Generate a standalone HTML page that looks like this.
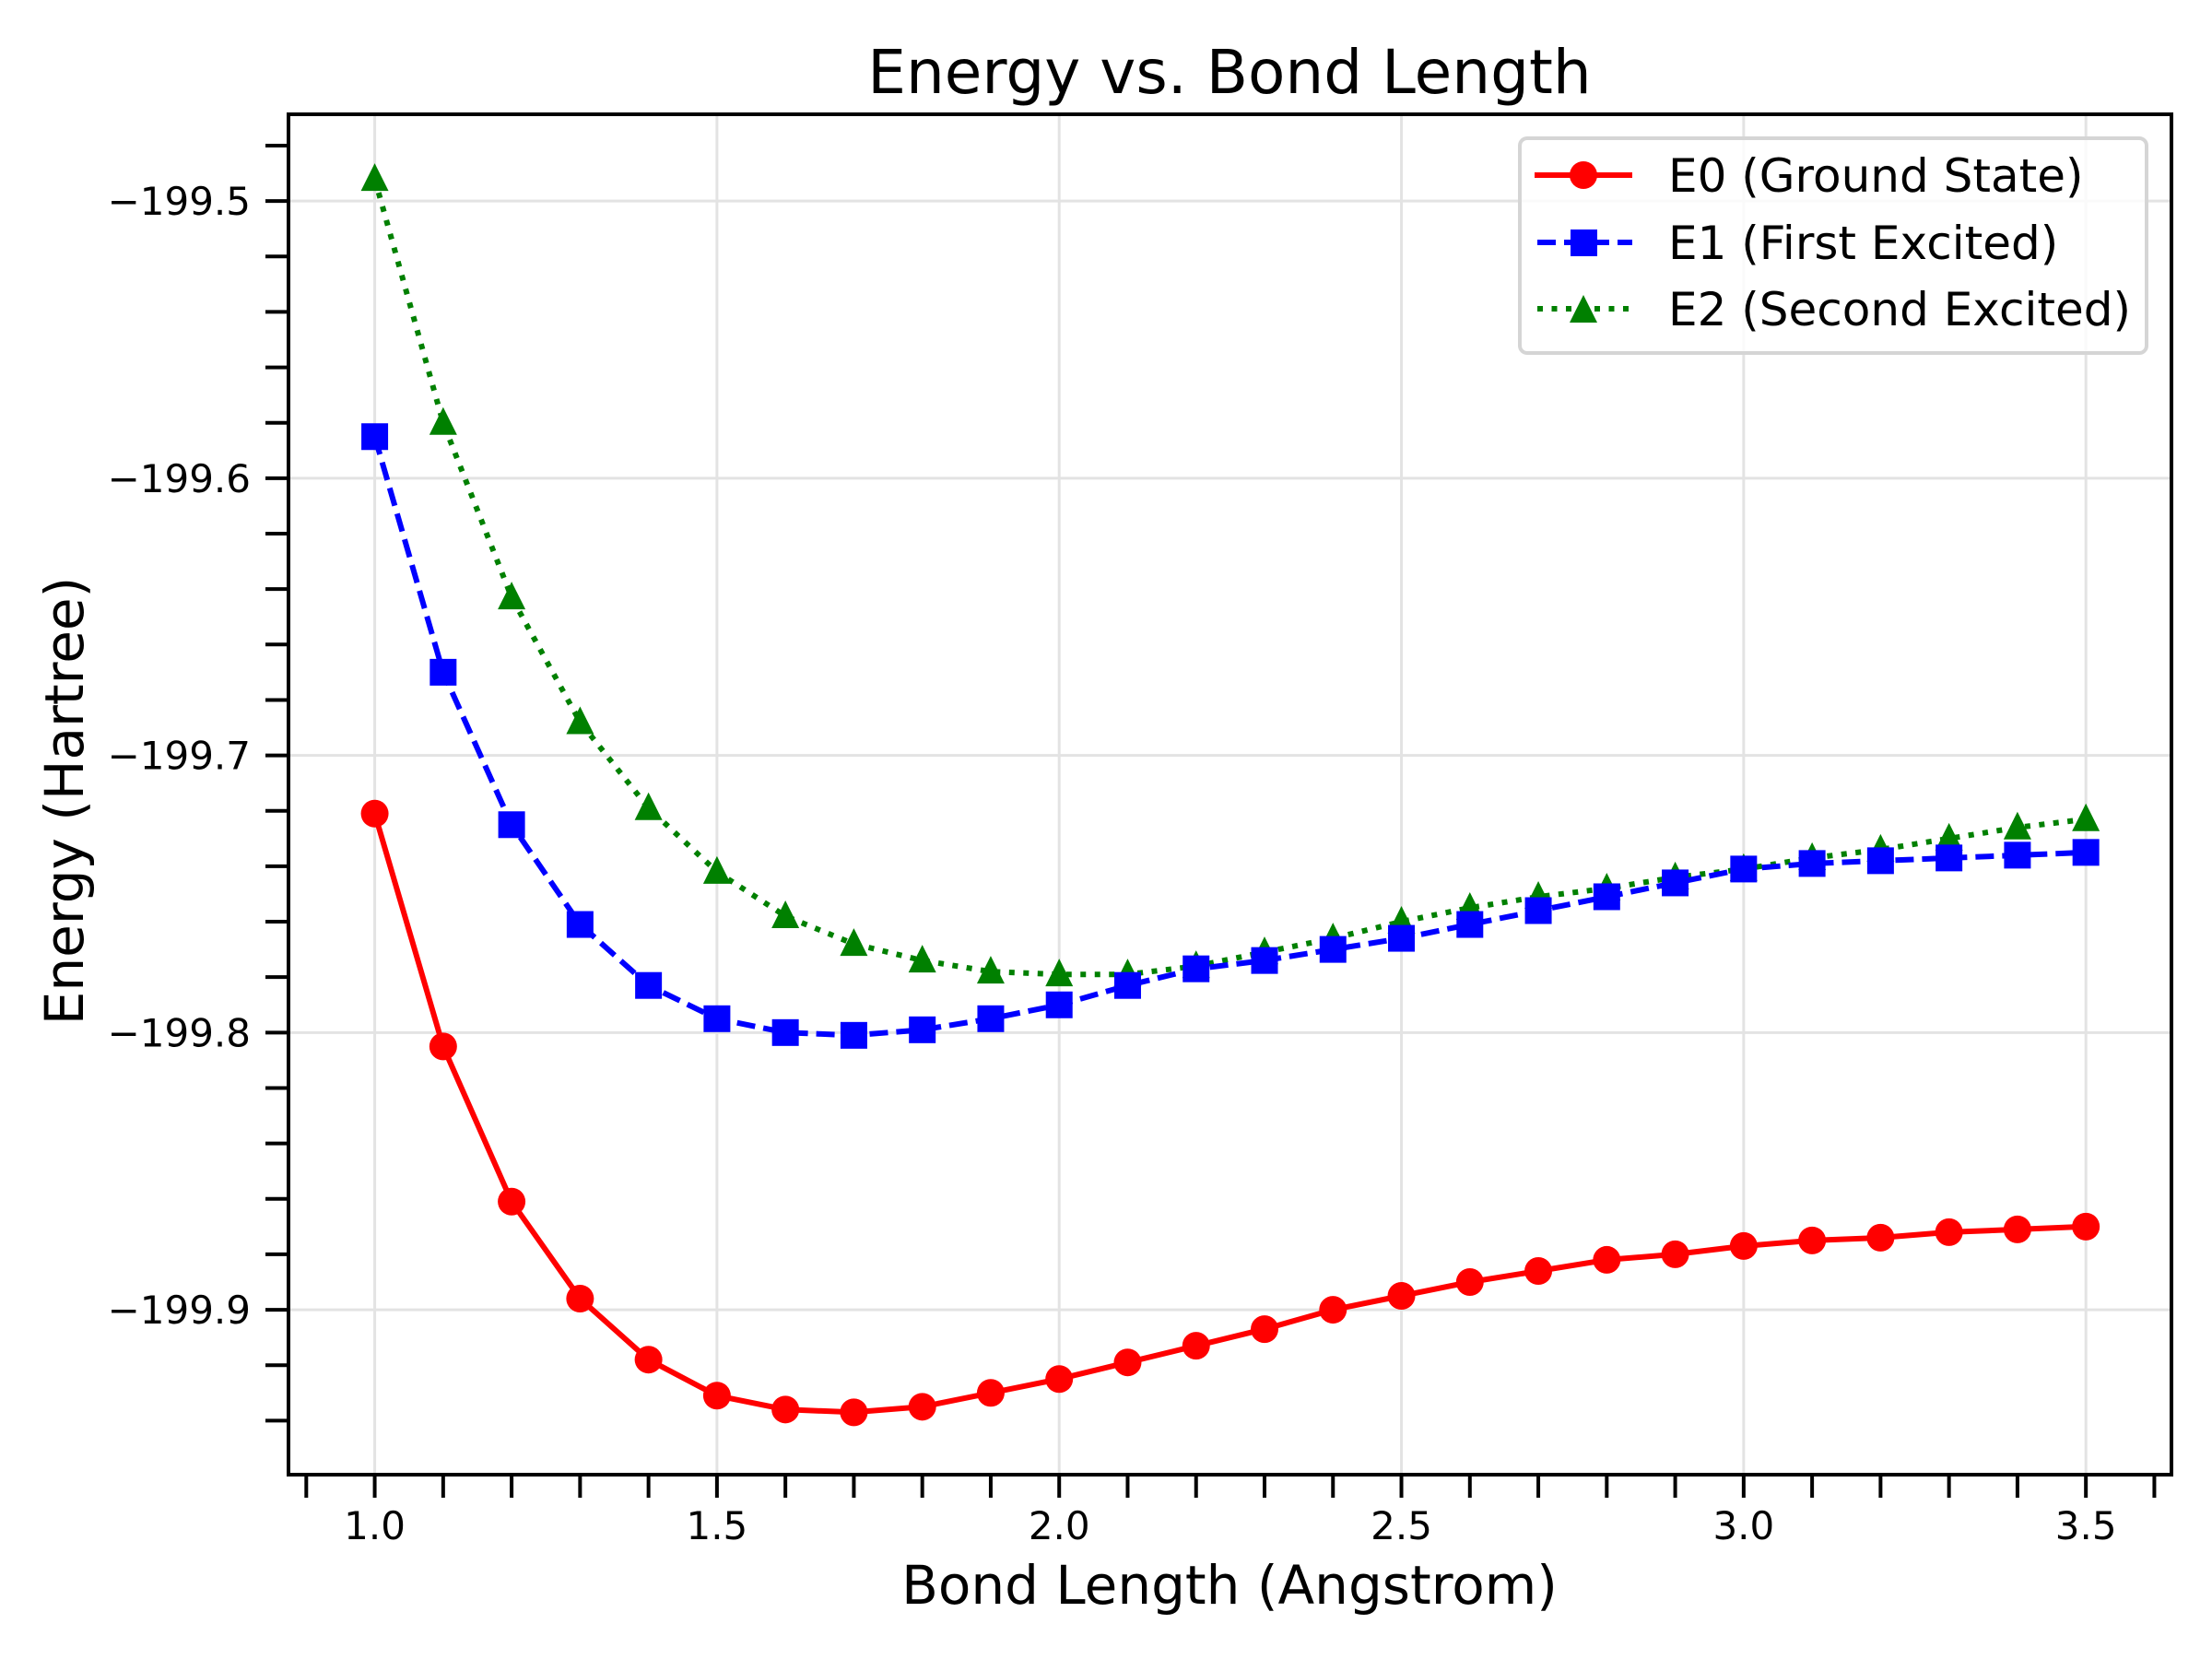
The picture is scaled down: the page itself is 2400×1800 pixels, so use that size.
<!DOCTYPE html>
<html><head><meta charset="utf-8"><style>
html,body{margin:0;padding:0;background:#fff;}
svg{display:block;font-family:"DejaVu Sans","Liberation Sans",sans-serif;}
</style></head><body>
<svg id="chart" width="2400" height="1800" viewBox="0 0 2400 1800" xmlns="http://www.w3.org/2000/svg">
<rect x="0" y="0" width="2400" height="1800" fill="#fff"/>
<g id="grid"></g>
<g id="series"></g>
<g id="axes"></g>
<text x="1334" y="101" font-size="66" text-anchor="middle">Energy vs. Bond Length</text>
<text x="1334" y="1740" font-size="58" text-anchor="middle">Bond Length (Angstrom)</text>
<text x="0" y="0" font-size="58" text-anchor="middle" transform="translate(90,869) rotate(-90)">Energy (Hartree)</text>
<g id="legend">
<rect x="1649" y="150" width="680" height="233" rx="8" fill="#fff" fill-opacity="0.8" stroke="#d5d5d5" stroke-width="4"/>
<g>
<line x1="1665" y1="190" x2="1771" y2="190" stroke="#ff0000" stroke-width="6"/>
<circle cx="1718" cy="190" r="15" fill="#ff0000"/>
<text x="1810" y="208" font-size="50">E0 (Ground State)</text></g>
<g>
<line x1="1668" y1="263" x2="1771" y2="263" stroke="#0000ff" stroke-width="6" stroke-dasharray="20,9"/>
<rect x="1704" y="249" width="29" height="29" fill="#0000ff"/>
<text x="1810" y="281" font-size="50">E1 (First Excited)</text></g>
<g>
<line x1="1668" y1="335" x2="1771" y2="335" stroke="#008000" stroke-width="6" stroke-dasharray="6,9.5"/>
<polygon points="1718,320 1703,350 1733,350" fill="#008000"/>
<text x="1810" y="353" font-size="50">E2 (Second Excited)</text></g>
</g>
</svg>
<script>
const bondLengths = [1.0,1.1,1.2,1.3,1.4,1.5,1.6,1.7,1.8,1.9,2.0,2.1,2.2,2.3,2.4,2.5,2.6,2.7,2.8,2.9,3.0,3.1,3.2,3.3,3.4,3.5];
const e0Values = [-199.721,-199.805,-199.861,-199.896,-199.918,-199.931,-199.936,-199.937,-199.935,-199.930,-199.925,-199.919,-199.913,-199.907,-199.900,-199.895,-199.890,-199.886,-199.882,-199.880,-199.877,-199.875,-199.874,-199.872,-199.871,-199.870];
const e1Values = [-199.585,-199.670,-199.725,-199.761,-199.783,-199.795,-199.800,-199.801,-199.799,-199.795,-199.790,-199.783,-199.777,-199.774,-199.770,-199.766,-199.761,-199.756,-199.751,-199.746,-199.741,-199.739,-199.738,-199.737,-199.736,-199.735];
const e2Values = [-199.492,-199.580,-199.643,-199.688,-199.719,-199.742,-199.758,-199.768,-199.774,-199.778,-199.779,-199.779,-199.776,-199.771,-199.766,-199.760,-199.755,-199.751,-199.748,-199.744,-199.741,-199.737,-199.734,-199.730,-199.726,-199.723];
const xTickLabels = ["1.0","1.5","2.0","2.5","3.0","3.5"];
const yTickLabels = ["\u2212199.5","\u2212199.6","\u2212199.7","\u2212199.8","\u2212199.9"];
const xTickValues = [1.0,1.5,2.0,2.5,3.0,3.5];
const yTickValues = [-199.5,-199.6,-199.7,-199.8,-199.9];

const L=313,R=2356,T=124,B=1600;
const XMIN=0.874,XMAX=3.625,YMIN=-199.9595,YMAX=-199.4687;
function sx(v){return L+(v-XMIN)/(XMAX-XMIN)*(R-L);}
function sy(v){return B-(v-YMIN)/(YMAX-YMIN)*(B-T);}
const NS="http://www.w3.org/2000/svg";
function mk(tag,attrs,parent){const e=document.createElementNS(NS,tag);for(const k in attrs)e.setAttribute(k,attrs[k]);parent.appendChild(e);return e;}
const grid=document.getElementById('grid'),series=document.getElementById('series'),axes=document.getElementById('axes');

xTickValues.forEach(v=>{const g=mk('line',{x1:sx(v),x2:sx(v),y1:T,y2:B,stroke:'#e3e3e3','stroke-width':3},grid);

});
yTickValues.forEach(v=>{const g=mk('line',{x1:L,x2:R,y1:sy(v),y2:sy(v),stroke:'#e3e3e3','stroke-width':3},grid);

});

function drawSeries(vals,color,dash,marker,name){
  const pts=bondLengths.map((x,i)=>sx(x).toFixed(1)+','+sy(vals[i]).toFixed(1)).join(' ');
  const pl=mk('polyline',{points:pts,fill:'none',stroke:color,'stroke-width':6,'stroke-dasharray':dash,'stroke-linejoin':'round'},series);
  
  
  bondLengths.forEach((x,i)=>{const cx=sx(x),cy=sy(vals[i]);let m;
    if(marker==='o')m=mk('circle',{cx:cx,cy:cy,r:15,fill:color},series);
    else if(marker==='s')m=mk('rect',{x:cx-14.5,y:cy-14.5,width:29,height:29,fill:color},series);
    else m=mk('polygon',{points:`${cx},${cy-17} ${cx-15},${cy+13} ${cx+15},${cy+13}`,fill:color},series);
    
    });
}
drawSeries(e2Values,'#008000','6,9.5','^','e2');
drawSeries(e1Values,'#0000ff','20,9','s','e1');
drawSeries(e0Values,'#ff0000','none','o','e0');

const frame=mk('rect',{x:L,y:T,width:R-L,height:B-T,fill:'none',stroke:'#000','stroke-width':4},axes);


for(let k=9;k<=36;k++){const v=k/10;const t=mk('line',{x1:sx(v),x2:sx(v),y1:B,y2:B+25,stroke:'#000','stroke-width':4},axes);

}
for(let k=-199.94*100;k<=-199.48*100+0.01;k+=2){const v=k/100;const t=mk('line',{x1:L-25,x2:L,y1:sy(v),y2:sy(v),stroke:'#000','stroke-width':4},axes);

}
xTickValues.forEach((v,i)=>{const t=mk('text',{x:sx(v),y:1670,'font-size':42,'text-anchor':'middle'},axes);t.textContent=xTickLabels[i];

});
yTickValues.forEach((v,i)=>{const t=mk('text',{x:272,y:sy(v)+15,'font-size':42,'text-anchor':'end'},axes);t.textContent=yTickLabels[i];

});
</script>
</body></html>
